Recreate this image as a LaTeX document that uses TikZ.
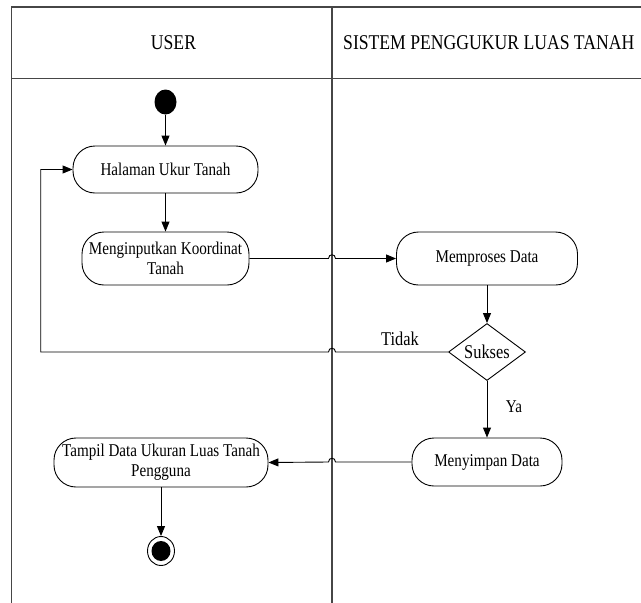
\documentclass[tikz,border=0pt]{standalone}
\usepackage{fontspec}
\setmainfont{Liberation Serif}[FakeStretch=0.84]
\usetikzlibrary{arrows.meta,shapes.geometric}
\begin{document}
\begin{tikzpicture}[x=1pt,y=-1pt,
  frame/.style={draw=gray!55!black, line width=1.1pt},
  conn/.style={draw=black, line width=0.9pt},
  arr/.style={conn, -{Triangle[length=10pt,width=8pt]}},
  actbox/.style={draw=black, line width=0.9pt, rectangle, rounded corners=22pt,
     inner sep=0pt, align=center, font=\fontsize{18}{20}\selectfont},
  hdr/.style={font=\fontsize{21}{24}\selectfont, inner sep=0pt},
  lbl/.style={font=\fontsize{19.5}{22}\selectfont, inner sep=0pt}]
\useasboundingbox (0,0) rectangle (641,603);
% swimlane frame
\draw[frame] (11.7,603) -- (11.7,7) -- (660,7);
\draw[frame] (332,7) -- (332,603);
\draw[frame] (11.7,78.5) -- (660,78.5);
\node[hdr] (hu) at (173.5,43) {USER};
\node[hdr, anchor=west] (hs) at (343,43) {SISTEM PENGGUKUR LUAS TANAH};
% nodes
\node[ellipse, fill=black, minimum width=22pt, minimum height=25pt, inner sep=0pt] (start) at (165.5,102) {};
\node[actbox, minimum width=185pt, minimum height=47pt] (hal) at (165.5,169.5) {Halaman Ukur Tanah};
\node[actbox, minimum width=167pt, minimum height=53pt] (inp) at (165.5,258.5) {Menginputkan Koordinat\\Tanah};
\node[actbox, minimum width=181pt, minimum height=53pt] (mem) at (487,258.5) {Memproses Data};
\node[diamond, draw=black, line width=0.9pt, aspect=1.35, minimum width=77pt, minimum height=57pt, inner sep=0pt, font=\fontsize{19.5}{22}\selectfont] (suk) at (487,352) {Sukses};
\node[actbox, minimum width=150pt, minimum height=48pt] (mey) at (487,462) {Menyimpan Data};
\node[actbox, minimum width=214pt, minimum height=49pt] (tam) at (161,462.5) {Tampil Data Ukuran Luas Tanah\\Pengguna};
\node[ellipse, draw=black, line width=0.9pt, minimum width=27pt, minimum height=29pt, inner sep=0pt] (fin) at (161,551) {};
\node[ellipse, fill=black, minimum width=19pt, minimum height=20pt, inner sep=0pt] (finin) at (fin) {};
% labels
\node[lbl] (tidak) at (400,339) {Tidak};
\node[font=\fontsize{18}{20}\selectfont, inner sep=0pt] (ya) at (514,407) {Ya};
% hop points and loop corner
\coordinate (hop1) at (332,258.5);
\coordinate (hop2) at (332,352);
\coordinate (hop3) at (332,462);
\coordinate (lc) at (40.7,352);
% connectors
\draw[arr] (start) -- (hal);
\draw[arr] (hal) -- (inp);
\draw[arr] (inp.east) -- ([xshift=-3.5pt]hop1) .. controls +(0,-5) and +(0,-5) .. ([xshift=3.5pt]hop1) -- (mem.west);
\draw[arr] (mem) -- (suk);
\draw[arr] (suk) -- (mey);
\draw[arr] (suk.west) -- ([xshift=3.5pt]hop2) .. controls +(0,-5) and +(0,-5) .. ([xshift=-3.5pt]hop2) -- (lc) |- (hal.west);
\draw[arr] (mey.west) -- ([xshift=3.5pt]hop3) .. controls +(0,-5) and +(0,-5) .. ([xshift=-3.5pt]hop3) -- (tam.east);
\draw[arr] (tam) -- (fin);
\end{tikzpicture}
\end{document}
